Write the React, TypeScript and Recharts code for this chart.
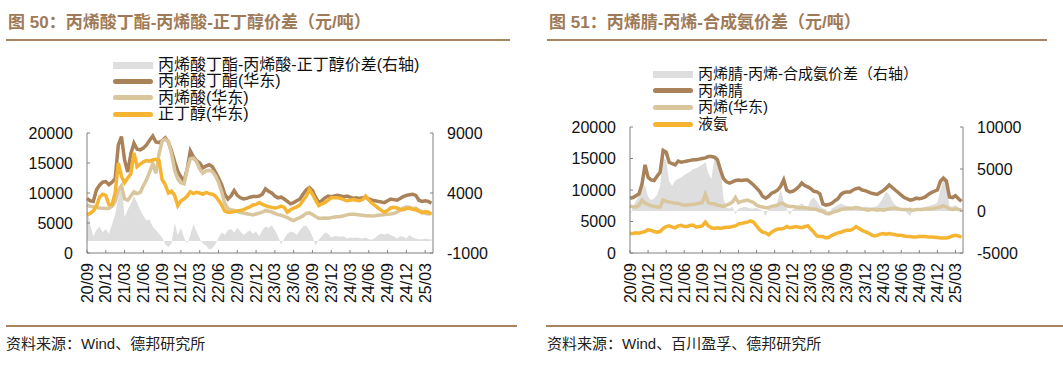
import React from "react";
import { ComposedChart, Area, Line, XAxis, YAxis } from "recharts";

// 半月度数据，起点 2020-09（t 单位：月）
const quarterLabels = [
  "20/09", "20/12", "21/03", "21/06", "21/09", "21/12", "22/03", "22/06", "22/09", "22/12",
  "23/03", "23/06", "23/09", "23/12", "24/03", "24/06", "24/09", "24/12", "25/03",
];
const quarterTicks = [0, 3, 6, 9, 12, 15, 18, 21, 24, 27, 30, 33, 36, 39, 42, 45, 48, 51, 54];

// 图 50
const baPrice = [
  9100, 8700, 8600, 10500, 11300, 11800, 11900, 11400, 11800, 12400,
  18000, 19400, 15500, 13500, 16500, 18300, 17300, 17200, 17500, 18000,
  18800, 19500, 18500, 18400, 18700, 19200, 18500, 17000, 15200, 13600,
  12700, 12000, 14000, 17000, 16000, 15400, 15000, 14200, 14500, 14700,
  14400, 13500, 12500, 11400, 9800, 9000, 9500, 10400, 9600, 9200,
  9000, 9100, 9300, 9400, 9400, 9500, 9800, 10700, 10300, 10000,
  9500, 9200, 9300, 9000, 8600, 8200, 8400, 8700, 9000, 9800,
  10500, 10900, 10400, 9300, 8400, 8700, 9200, 9500, 9400, 9500,
  9600, 9500, 9400, 9500, 9300, 9100, 9200, 9100, 9200, 9300,
  9000, 8800, 8700, 8600, 8500, 8400, 8700, 9000, 8900, 8800,
  9100, 9400, 9600, 9700, 9800, 9600, 8800, 8600, 8700, 8600,
  8300,
];
const aaPrice = [
  8000, 7800, 7700, 7600, 7500, 7450, 7400, 7450, 7800, 8600,
  10500, 11200, 9000, 8800, 9500, 10200, 9900, 10100, 11200, 12200,
  13500, 14900, 13300, 16500, 18700, 19000, 18600, 16500, 13800, 12300,
  11700, 11500, 14000, 15700, 15800, 15200, 14000, 13300, 13700, 13800,
  13600, 12900, 11800, 10200, 8300, 7400, 7200, 7100, 6900, 6750,
  6650, 6550, 6450, 6350, 6500, 6650, 6800, 7100, 6950, 6850,
  6600, 6400, 6300, 6100, 5900, 5600, 5400, 5700, 5900, 6200,
  6600, 6700, 6400, 6100, 5800, 5800, 5850, 5800, 5900, 6000,
  6050, 6100, 6200, 6350, 6450, 6450, 6400, 6350, 6300, 6200,
  6200, 6150, 6200, 6300, 6350, 6400, 6450, 6500, 6600, 6800,
  7100, 7500, 7700, 7600, 7400, 7500, 7100, 6900, 6600, 6500,
  6600,
];
const nbaPrice = [
  6400, 6600, 7000, 7800, 9300, 9800, 9600, 8100, 8100, 10000,
  15000, 12800, 11700, 12500, 13200, 16700, 14400, 14800, 15200, 15400,
  15300, 15500, 15600, 15400, 12200, 11400, 10000, 10300, 9600, 7900,
  8700, 9000, 9500, 10200, 9900, 10100, 10000, 9800, 10100, 9900,
  9800, 9500, 8800, 8000, 7000, 6800, 6800, 6900, 7000, 7100,
  7200, 7500, 7700, 8000, 8100, 8400, 8100, 7900, 7700, 7600,
  7500, 7600, 7800, 7600, 6800, 7200, 7500, 7700, 8000, 8800,
  9400, 10600, 9800, 8800, 7900, 8200, 8400, 8800, 9200, 9200,
  9200, 9100, 8900, 8700, 8800, 8900, 8800, 8700, 8900, 9500,
  8800, 8300, 7900, 7500, 7100, 6800, 7100, 7500, 7600, 7500,
  7300, 7200, 7400, 7500, 7300, 7200, 7000, 6700, 6900, 6800,
  6500,
];
const spread50 = [
  3000, 1400, 400, 900, 1200, 700, 1000, 600, 1400, 2200,
  3600, 4900, 2000, 2600, 3100, 3700, 3200, 2600, 2100, 1700,
  1800, 1200, 900, 600, 300, -300, -500, -200, 1500, 500,
  1100, 300, -200, 500, 1400, 800, 200, -200, -400, -700,
  -600, -300, 300, 700, 500, 900, 1000, 700, 1100, 800,
  500, 700, 900, 600, 800, 400, 900, 1200, 1100, 1300,
  900, 400, -300, 200, 600, 800, 700, 500, 900, 1200,
  1300, 900, 400, -400, 100, 400, 700, 600, 300, 400,
  400, 350, 400, 200, 300, 250, 300, 250, 200, 300,
  150, 100, 250, 500, 600, 550, 650, 500, 400, 200,
  400, 350, 200, 500, 300, 200, 150, 150, 200, 150,
  150,
];

// 图 51
const anPrice = [
  8700, 8800, 9100, 9400, 11000, 14000, 12000, 11600, 11500, 12200,
  12800, 16300, 16000, 14400, 14200, 14000, 14600, 14400, 14500, 14600,
  14700, 14800, 14800, 14900, 15000, 15100, 15300, 15300, 15200, 14800,
  13200, 11800, 11300, 11100, 11300, 11500, 11600, 11500, 11600, 11600,
  11200, 10800, 10300, 9800, 9000, 8700, 9000, 9500, 9700, 10000,
  10600, 11600, 10000, 9700, 9800, 10100, 10500, 11100, 10700, 10500,
  10200, 9800, 9700, 9400, 7800, 7600, 7700, 7900, 8300, 8600,
  9300, 9600, 9700, 9700, 10000, 10200, 10300, 10000, 9900, 9700,
  9500, 9400, 9300, 9600, 9900, 10300, 10800, 10400, 10000, 9600,
  9200, 8800, 8600, 8400, 8500, 8700, 8600, 8700, 8900, 9300,
  9600, 9800, 10000, 11400, 11900, 11400, 8900, 8800, 9100, 8600,
  8200,
];
const propylenePrice = [
  7500, 7300, 7300, 7600, 8400, 7900, 7700, 7500, 7400, 7300,
  7300, 8400, 8200, 8100, 8000, 7900, 7900, 7700, 7600, 7600,
  7700, 7700, 7800, 7900, 8000, 9300, 8000, 7800, 7800, 7600,
  7500, 7400, 7600, 7800, 8100, 8800, 8000, 8200, 8300, 8400,
  8200, 8000, 7600, 7400, 7300, 7200, 7200, 7400, 7500, 7600,
  7900, 7800, 7500, 7400, 7400, 7300, 7200, 7200, 7200, 7100,
  7000, 7000, 6900, 6700, 6600, 6300, 6200, 6400, 6600, 6700,
  6900, 7000, 7100, 7100, 7100, 7200, 7100, 7000, 6900, 6800,
  6900, 6900, 6800, 6900, 6800, 6900, 7000, 7100, 7100, 7000,
  6900, 6900, 6900, 6900, 6800, 6900, 6900, 6900, 7000, 7000,
  7000, 7100, 7200, 7300, 7500, 7300, 7000, 6900, 7000, 6900,
  6800,
];
const ammoniaPrice = [
  3100, 3100, 3200, 3150, 3300, 3400, 3700, 3600, 3400, 3300,
  3400, 3900, 4200, 4300, 4100, 4000, 4300, 4400, 4200, 4200,
  4400, 4400, 4100, 4200, 4300, 4900, 4300, 4000, 3900, 4000,
  3900, 4000, 4100, 4100, 4200, 4300, 4600, 4700, 4800, 4900,
  5100, 4900, 4300, 3700, 3300, 3200, 2900, 3300, 3600, 3800,
  3800, 3900, 4200, 4000, 4100, 4200, 4100, 4000, 4200, 4300,
  3800, 3300, 2700, 2600, 2600, 2400, 2500, 2800, 3000, 3200,
  3300, 3500, 3600, 3600, 3800, 4200, 3900, 3600, 3400, 3200,
  2900, 2700, 2800, 3000, 3100, 3000, 3100, 3000, 2900, 2800,
  2800, 2700, 2600, 2600, 2550, 2550, 2600, 2600, 2600, 2550,
  2550, 2500, 2450, 2400, 2400, 2400, 2500, 2700, 2800, 2700,
  2500,
];
const spread51 = [
  -500, 500, 1200, 1800, 3200, 3000, 1700, 1300, 1500, 1900,
  3000, 6500, 6000, 3500, 3000, 3600, 3800, 4000, 4300, 4500,
  4700, 5000, 5100, 5300, 5500, 5800, 4500, 3800, 6300, 6600,
  5500, 1500, 400, 300, 500, -400, 300, 400, 500, 400,
  300, 300, 400, 200, 100, -600, 200, 300, 500, 1200,
  2600, 1200, 300, -500, 200, 400, 700, 900, 600, 500,
  1300, 1600, 1200, 600, 300, 200, -300, 300, 500, 700,
  900, 700, 600, 500, 400, 500, 600, 400, 500, 500,
  400, 500, 600, 1000, 1600, 2300, 2000, 1200, 700, 500,
  300, 200, -300, -600, 200, 400, 300, 400, 500, 600,
  700, 800, 1000, 2500, 3900, 3000, 600, 500, 700, 400,
  300,
];

const BROWN = "#A9825A";
const TAN = "#D9C69D";
const YELLOW = "#F5B533";
const GRAY = "#DEDEDE";
const RULE = "#A8845F";
const AXIS = "#808080";
const NUM_FONT = "'Liberation Sans', Arial, sans-serif";
const CJK_FONT = "'Liberation Sans', 'Noto Sans CJK SC', sans-serif";

const rows50 = baPrice.map((v, i) => ({
  t: i / 2, main: v, second: aaPrice[i], third: nbaPrice[i], spread: spread50[i],
}));
const rows51 = anPrice.map((v, i) => ({
  t: i / 2, main: v, second: propylenePrice[i], third: ammoniaPrice[i], spread: spread51[i],
}));

function QuarterTick({ x, y, payload }: any) {
  const label = quarterLabels[quarterTicks.indexOf(payload.value)] ?? "";
  return (
    <text
      x={x}
      y={y}
      transform={`rotate(-90 ${x} ${y})`}
      textAnchor="end"
      dominantBaseline="central"
      fontSize={16}
      fontFamily={NUM_FONT}
      fill="#111"
    >
      {label}
    </text>
  );
}

function SpreadChart({
  rows, width, marginLeft, marginRight, top, leftAxisWidth, rightDomain, rightTicks,
}: {
  rows: typeof rows50;
  width: number;
  marginLeft: number;
  marginRight: number;
  top: number;
  leftAxisWidth: number;
  rightDomain: [number, number];
  rightTicks: number[];
}) {
  const tickStyle = { fontSize: 16, fontFamily: NUM_FONT, fill: "#111" };
  return (
    <ComposedChart
      width={width}
      height={310}
      data={rows}
      margin={{ top, right: marginRight, bottom: 0, left: marginLeft }}
    >
      <XAxis
        dataKey="t"
        type="number"
        domain={[0, 55.25]}
        ticks={quarterTicks}
        interval={0}
        height={57}
        tick={<QuarterTick />}
        tickSize={-3}
        tickMargin={13}
        axisLine={{ stroke: AXIS }}
        tickLine={{ stroke: AXIS }}
      />
      <YAxis
        yAxisId="left"
        orientation="left"
        domain={[0, 20000]}
        ticks={[0, 5000, 10000, 15000, 20000]}
        width={leftAxisWidth}
        tick={tickStyle}
        tickSize={-3}
        tickMargin={17}
        axisLine={{ stroke: AXIS }}
        tickLine={{ stroke: AXIS }}
      />
      <YAxis
        yAxisId="right"
        orientation="right"
        domain={rightDomain}
        ticks={rightTicks}
        width={60}
        tick={{ ...tickStyle, textAnchor: "start" }}
        tickSize={-3}
        tickMargin={17}
        axisLine={{ stroke: AXIS }}
        tickLine={{ stroke: AXIS }}
      />
      <Area
        yAxisId="right"
        dataKey="spread"
        type="linear"
        baseValue={0}
        fill={GRAY}
        fillOpacity={1}
        stroke="none"
        isAnimationActive={false}
      />
      <Line yAxisId="left" dataKey="main" type="linear" stroke={BROWN} strokeWidth={3.5} dot={false} isAnimationActive={false} />
      <Line yAxisId="left" dataKey="second" type="linear" stroke={TAN} strokeWidth={3.5} dot={false} isAnimationActive={false} />
      <Line yAxisId="left" dataKey="third" type="linear" stroke={YELLOW} strokeWidth={3.5} dot={false} isAnimationActive={false} />
    </ComposedChart>
  );
}

function LegendBlock({
  left, top, rowGap, fontSize, labels,
}: {
  left: number; top: number; rowGap: number; fontSize: number; labels: string[];
}) {
  const colors = [GRAY, BROWN, TAN, YELLOW];
  return (
    <div style={{ position: "absolute", left, top }}>
      {labels.map((label, i) => (
        <div
          key={label}
          style={{ position: "absolute", top: i * rowGap, left: 0, display: "flex", alignItems: "center", whiteSpace: "nowrap", height: 18, transform: "translateY(-9px)" }}
        >
          <span
            style={{
              display: "inline-block",
              width: 40,
              height: i === 0 ? 7 : 5,
              borderRadius: i === 0 ? 0 : 3,
              background: colors[i],
            }}
          />
          <span style={{ marginLeft: 5, fontSize, fontFamily: CJK_FONT, color: "#111", lineHeight: "18px" }}>{label}</span>
        </div>
      ))}
    </div>
  );
}

export default function App() {
  return (
    <div style={{ position: "absolute", left: 0, top: 0, width: 1063, height: 366, background: "#fff", overflow: "hidden" }}>
      {/* 图 50 */}
      <div style={{ position: "absolute", left: 8, top: 14, fontSize: 17, lineHeight: "18px", fontWeight: 700, color: "#9E7A58", fontFamily: CJK_FONT, whiteSpace: "nowrap" }}>
        图 50：丙烯酸丁酯-丙烯酸-正丁醇价差（元/吨）
      </div>
      <div style={{ position: "absolute", left: 6, top: 39, width: 504, height: 2, background: RULE }} />
      <LegendBlock
        left={113}
        top={65}
        rowGap={16.4}
        fontSize={16}
        labels={["丙烯酸丁酯-丙烯酸-正丁醇价差(右轴)", "丙烯酸丁酯(华东)", "丙烯酸(华东)", "正丁醇(华东)"]}
      />
      <div style={{ position: "absolute", left: 0, top: 0 }}>
        <SpreadChart
          rows={rows50}
          width={530}
          marginLeft={0}
          marginRight={37}
          top={133}
          leftAxisWidth={87}
          rightDomain={[-1000, 9000]}
          rightTicks={[-1000, 4000, 9000]}
        />
      </div>
      <div style={{ position: "absolute", left: 6, top: 325, width: 511, height: 2, background: RULE }} />
      <div style={{ position: "absolute", left: 6, top: 335, fontSize: 15, lineHeight: "17px", color: "#222", fontFamily: CJK_FONT, whiteSpace: "nowrap" }}>
        资料来源：Wind、德邦研究所
      </div>

      {/* 图 51 */}
      <div style={{ position: "absolute", left: 549, top: 14, fontSize: 17, lineHeight: "18px", fontWeight: 700, color: "#9E7A58", fontFamily: CJK_FONT, whiteSpace: "nowrap" }}>
        图 51：丙烯腈-丙烯-合成氨价差（元/吨）
      </div>
      <div style={{ position: "absolute", left: 547, top: 39, width: 500, height: 2, background: RULE }} />
      <LegendBlock
        left={653}
        top={74}
        rowGap={16.7}
        fontSize={15}
        labels={["丙烯腈-丙烯-合成氨价差（右轴）", "丙烯腈", "丙烯(华东)", "液氨"]}
      />
      <div style={{ position: "absolute", left: 540, top: 0 }}>
        <SpreadChart
          rows={rows51}
          width={523}
          marginLeft={0}
          marginRight={40}
          top={127}
          leftAxisWidth={90}
          rightDomain={[-5000, 10000]}
          rightTicks={[-5000, 0, 5000, 10000]}
        />
      </div>
      <div style={{ position: "absolute", left: 546, top: 325, width: 517, height: 2, background: RULE }} />
      <div style={{ position: "absolute", left: 547, top: 335, fontSize: 15, lineHeight: "17px", color: "#222", fontFamily: CJK_FONT, whiteSpace: "nowrap" }}>
        资料来源：Wind、百川盈孚、德邦研究所
      </div>
    </div>
  );
}
